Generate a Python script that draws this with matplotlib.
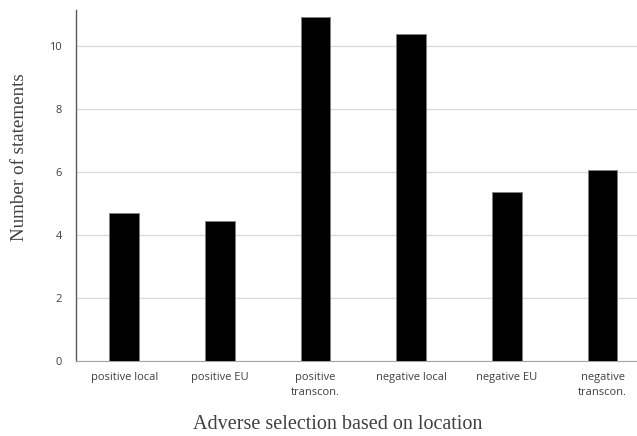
import numpy as np
import matplotlib.pyplot as plt

categories = ['positive local', 'positive EU', 'positive\ntranscon.',
              'negative local', 'negative EU', 'negative\ntranscon.']
values = [4.70, 4.45, 10.92, 10.38, 5.36, 6.07]
yticks = [0, 2, 4, 6, 8, 10]

fig = plt.figure(figsize=(6.37, 4.36), dpi=100)
ax = fig.add_axes([0.1193, 0.172, 0.8807, 0.805])

x = np.arange(len(categories))
ax.bar(x, values, width=0.31, color='black', edgecolor='#7f7f7f', linewidth=0.6, zorder=3)

ax.set_xlim(-0.505, 5.36)
ax.set_ylim(0, 11.14)
ax.set_yticks(yticks)
ax.set_xticks(x)
ax.set_xticklabels(categories, fontsize=8, color='#404040', family='Open Sans', linespacing=1.45)
for lab in ax.get_yticklabels():
    lab.set_fontsize(8)
    lab.set_color('#404040')
    lab.set_family('Open Sans')
ax.tick_params(axis='y', length=0, pad=10)
ax.tick_params(axis='x', length=0, pad=8)
ax.yaxis.grid(True, color='#d9d9d9', linewidth=0.9, zorder=0)

for s in ['top', 'right']:
    ax.spines[s].set_visible(False)
ax.spines['left'].set_color('#595959')
ax.spines['bottom'].set_color('#a6a6a6')
ax.spines['left'].set_linewidth(1.0)

ax.set_ylabel('Number of statements', fontsize=13.7, family='Liberation Serif', color='#404040')
ax.yaxis.set_label_coords(-0.085, 0.58)
ax.set_xlabel('Adverse selection based on location', fontsize=14.5, family='Liberation Serif', color='#404040')
ax.xaxis.set_label_coords(0.467, -0.155)

plt.savefig('out.png', dpi=100)
